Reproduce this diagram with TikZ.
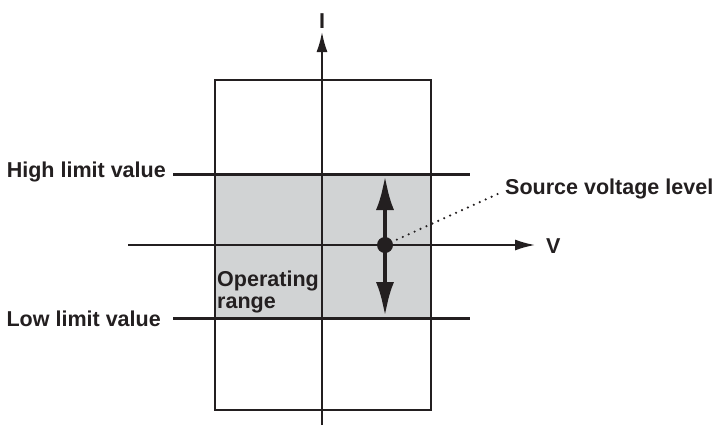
\documentclass[tikz,border=0pt]{standalone}
\usepackage{fontspec}
\setmainfont{Liberation Sans}
\usetikzlibrary{arrows.meta,backgrounds}

\definecolor{rangegray}{RGB}{209,211,212}
\definecolor{inkblack}{RGB}{35,31,32}

\begin{document}
\begin{tikzpicture}[%
    x=1bp, y=-1bp,
    txt/.style={
        font=\fontsize{21.6}{22}\selectfont\bfseries,
        text=inkblack,
        inner sep=0pt
        },
    frame/.style={draw=inkblack, line width=1.4bp},
    limitline/.style={draw=inkblack, line width=3bp},
    axis/.style={draw=inkblack, line width=1.8bp,
        -{Latex[length=20bp,width=11bp]}},
    swing/.style={draw=inkblack, line width=4.7bp,
        {Latex[length=35bp,width=18bp]}-{Latex[length=35bp,width=18bp]}},
]

\useasboundingbox (0,0) rectangle (712,426);

% operating range and frame
\fill[rangegray] (215,174) rectangle (431,318);
\draw[frame] (215,80) rectangle (431,410);

% labels
\node[txt, anchor=base] (ilabel) at (322,28) {I};
\node[txt, anchor=base west] (vlabel) at (546,253) {V};
\node[txt, anchor=base east] (highlabel) at (166,177) {High limit value};
\node[txt, anchor=base east] (lowlabel) at (161,326) {Low limit value};
\node[txt, anchor=base west] (srclabel) at (505,194) {Source voltage level};
\node[txt, anchor=north west, align=left] (oplabel) at (217,271) {Operating\\range};

% axes
\coordinate (ibottom) at (322,425);
\coordinate (itip) at (322,32);
\coordinate (vleft) at (128,245);
\coordinate (vtip) at (535,245);
\draw[axis] (ibottom) -- (itip);
\draw[axis] (vleft) -- (vtip);

% limit lines
\coordinate (hiW) at (173,174);
\coordinate (hiE) at (470,174);
\coordinate (loW) at (173,318);
\coordinate (loE) at (470,318);
\draw[limitline] (hiW) -- (hiE);
\draw[limitline] (loW) -- (loE);

% source voltage level
\coordinate (swingtop) at (385,175);
\coordinate (swingbot) at (385,317);
\draw[swing] (swingbot) -- (swingtop);
\node[circle, fill=inkblack, minimum size=16bp, inner sep=0pt] (level) at (385,245) {};
\coordinate (srcend) at (502,192);
\draw[inkblack, line width=2.4bp, line cap=round, dash pattern=on 0pt off 6.5bp]
    (level.center) -- (srcend);
\end{tikzpicture}
\end{document}
